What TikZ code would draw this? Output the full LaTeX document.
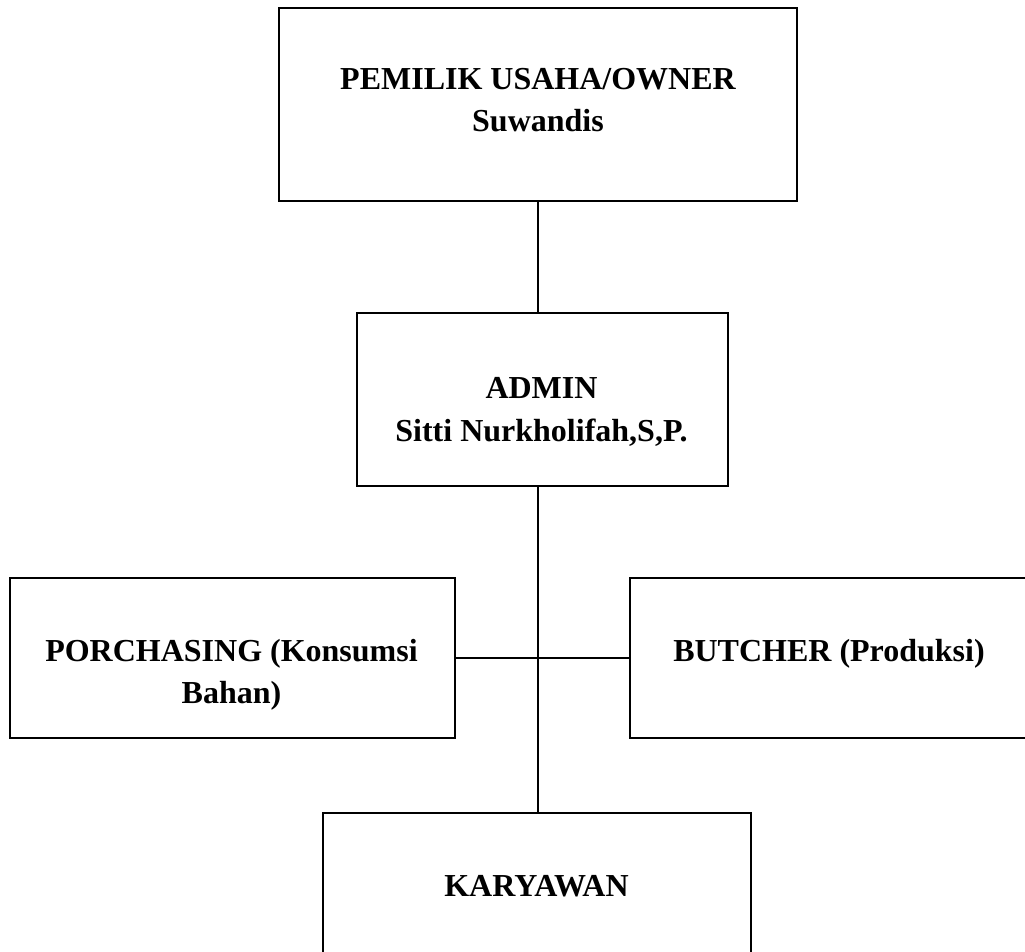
\documentclass[tikz,border=0pt]{standalone}
\usepackage{fontspec}
\setmainfont{Liberation Serif}
\usepackage{tikz}
\usetikzlibrary{positioning}
\tikzset{
  orgbox/.style={
    rectangle, draw=black, line width=1.2pt, inner sep=0pt,
  },
  orgtext/.style={
    inner sep=0pt, align=center,
    font=\fontsize{32}{42.5}\selectfont\bfseries,
  },
  link/.style={line width=1.2pt},
}

\begin{document}
\begin{tikzpicture}[x=1pt, y=-1pt]

  \useasboundingbox (0,0) rectangle (1025,952);

  % Top: owner and admin
  \node[orgbox, minimum width=518pt, minimum height=193pt] (owner) at (538,104.5) {};
  \node[orgtext] (ownertxt) at (538,100) {PEMILIK USAHA/OWNER\\Suwandis};

  \node[orgbox, minimum width=371pt, minimum height=173pt] (admin) at (542.5,399.5) {};
  \node[orgtext] (admintxt) at (541.5,412) {ADMIN\\Sitti Nurkholifah,S,P.};

  % Middle row: porchasing and butcher
  \node[orgbox, minimum width=445pt, minimum height=160pt] (porch) at (232.5,658) {};
  \node[orgtext] (porchtxt) at (231.5,675) {PORCHASING (Konsumsi\\Bahan)};

  \node[orgbox, minimum width=400pt, minimum height=160pt] (butcher) at (830,658) {};
  \node[orgtext] (butchertxt) at (829,654) {BUTCHER (Produksi)};

  % Bottom: karyawan
  \node[orgbox, minimum width=428pt, minimum height=164pt] (staff) at (537,895) {};
  \node[orgtext] (stafftxt) at (536.5,886) {KARYAWAN};

  % Connectors
  \draw[link] (owner.south) -- (owner.south |- admin.north);
  \draw[link] (owner.south |- admin.south) -- (owner.south |- staff.north);
  \draw[link] (porch.east) -- (butcher.west);

\end{tikzpicture}
\end{document}
